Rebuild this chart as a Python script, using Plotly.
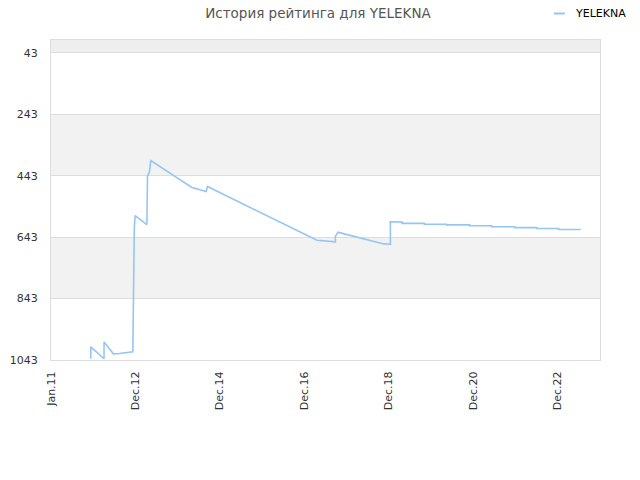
import plotly.graph_objects as go

# rating history
dates = [
    "2011-12-11", "2011-12-11", "2012-04-04", "2012-04-04", "2012-06-24",
    "2012-08-15", "2012-12-09", "2012-12-15", "2012-12-15", "2012-12-22",
    "2012-12-29", "2013-04-10", "2013-04-15", "2013-05-02", "2013-05-14",
    "2014-05-04", "2014-09-05", "2014-09-16", "2017-04-21", "2017-07-11",
    "2017-09-27", "2017-09-27", "2017-10-20", "2017-11-09", "2018-11-20",
    "2019-01-16", "2019-01-16", "2019-04-28", "2019-04-28", "2019-11-07",
    "2019-11-07", "2020-05-16", "2020-05-16", "2020-12-02", "2020-12-02",
    "2021-06-10", "2021-06-10", "2021-12-26", "2021-12-26", "2022-07-05",
    "2022-07-05", "2023-01-11", "2023-01-11", "2023-07-21",
]
ranks = [
    1039, 1000, 1039, 984, 1023,
    1022, 1016, 814, 651, 612,
    573, 602, 445, 429, 394,
    481, 494, 478, 653, 656,
    658, 640, 627, 629, 665,
    666, 593, 594, 598, 598,
    601, 601, 603, 603, 606,
    606, 609, 609, 612, 612,
    615, 615, 618, 618,
]

tick_dates = ["2011-01-01", "2013-01-01", "2015-01-01", "2017-01-01",
              "2019-01-01", "2021-01-01", "2023-01-01"]
tick_labels = ["Jan.11", "Dec.12", "Dec.14", "Dec.16", "Dec.18", "Dec.20", "Dec.22"]
y_ticks = [43, 243, 443, 643, 843, 1043]
series_name = "YELEKNA"
line_col = "#94c6f5"

fig = go.Figure()
fig.add_trace(go.Scatter(x=dates, y=ranks, mode="lines", name=series_name,
                         showlegend=False, line=dict(color=line_col, width=1.6)))

# background bands
for y0, y1, col in [(1, 43, "#eeeeee"), (243, 443, "#f2f2f2"), (643, 843, "#f2f2f2")]:
    fig.add_shape(type="rect", xref="paper", x0=0, x1=1, yref="y", y0=y0, y1=y1,
                  fillcolor=col, line_width=0, layer="below")

# small legend in the top right corner
fig.add_shape(type="line", xref="paper", yref="paper", x0=0.916, x1=0.936,
              y0=1.0828, y1=1.0828, line=dict(color=line_col, width=2))
fig.add_annotation(text=series_name, xref="paper", yref="paper", x=0.951, y=1.0828,
                   xanchor="left", yanchor="middle", showarrow=False,
                   font=dict(size=11, color="#000000"))

# page has an 8px body margin, so the figure is a bit smaller and shifted
fig.update_layout(
    width=632, height=472,
    margin=dict(l=43, r=40, t=32, b=120, autoexpand=False),
    paper_bgcolor="white", plot_bgcolor="white",
    font=dict(family="DejaVu Sans", size=11, color="#333333"),
    title=dict(text="История рейтинга для YELEKNA", x=0.4905, xanchor="center",
               y=0.999, yanchor="top", yref="container",
               font=dict(size=13.5, color="#555555")),
    showlegend=False,
)
fig.update_xaxes(type="date", range=["2011-01-01", "2024-01-04"], automargin=False,
                 tickvals=tick_dates, ticktext=tick_labels, tickangle=-90,
                 showgrid=False, zeroline=False, showline=True, linecolor="#dddddd",
                 mirror=True, ticks="outside", ticklen=6, tickcolor="white",
                 tickfont=dict(size=11, color="#333333"))
fig.update_yaxes(range=[1043, 1], tickvals=y_ticks, showgrid=True, gridcolor="#dddddd",
                 automargin=False, zeroline=False, showline=True, linecolor="#dddddd",
                 mirror=True, ticks="outside", ticklen=10, tickcolor="white",
                 tickfont=dict(size=11, color="#333333"))

fig.write_html("out.html")
